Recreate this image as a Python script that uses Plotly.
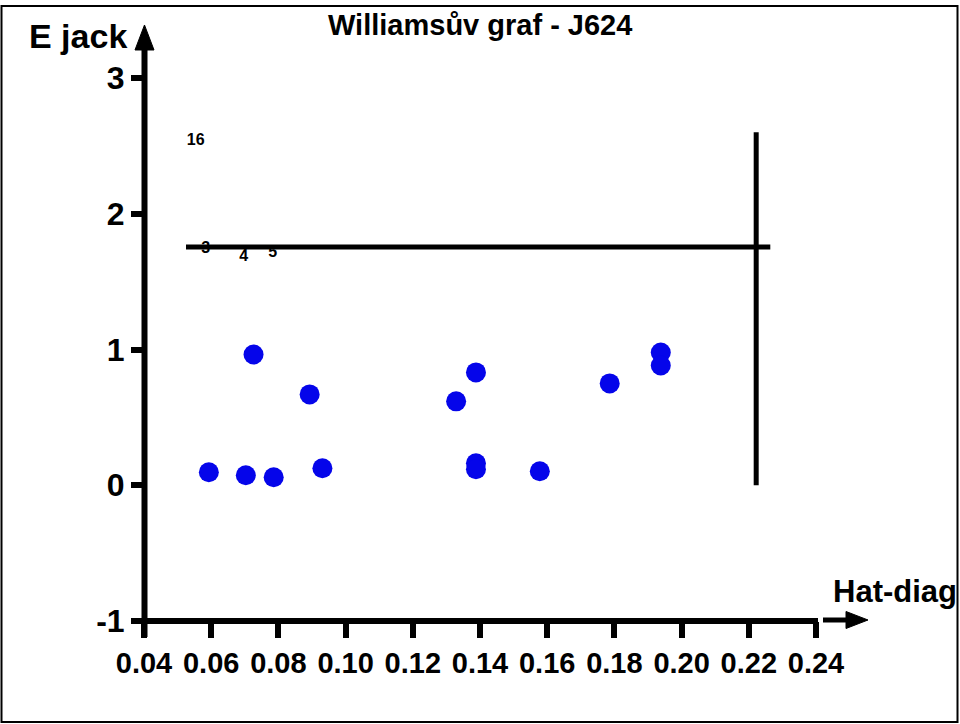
import plotly.graph_objects as go

# Data
hat = [0.0593, 0.0703, 0.0786, 0.0726, 0.0893, 0.0931, 0.1329, 0.1388, 0.1388, 0.1388,
       0.1578, 0.1786, 0.1938, 0.1938]
ejack = [0.096, 0.074, 0.059, 0.963, 0.669, 0.125, 0.618, 0.831, 0.162, 0.118,
         0.103, 0.750, 0.978, 0.882]

lab_names = ["16", "3", "4", "5"]
lab_hat = [0.0554, 0.0584, 0.0697, 0.0783]
lab_ejack = [2.537, 1.743, 1.684, 1.713]

h_star = 0.2222
e_crit = 1.755
hline_x = [0.0525, 0.2264]
vline_y = [0.0, 2.6]

x_ticks = [0.04, 0.06, 0.08, 0.10, 0.12, 0.14, 0.16, 0.18, 0.20, 0.22, 0.24]
x_ticktext = ["0.04", "0.06", "0.08", "0.10", "0.12", "0.14", "0.16", "0.18", "0.20", "0.22", "0.24"]
y_ticks = [-1, 0, 1, 2, 3]
y_ticktext = ["-1", "0", "1", "2", "3"]

W, H = 960, 724
FONT = "Liberation Sans, Arial"
XTICKFONT = dict(family=FONT, size=29, color="black", weight="bold")
YTICKFONT = dict(family=FONT, size=32, color="black", weight="bold")

# plot-area edges in pixels
X0, X1 = 144, 816
Y0, Y1 = 621, 78


def px(x):
    return x / W


def py(y):
    return 1 - y / H


def tri(pts):
    return "M " + " L ".join(f"{px(a):.5f},{py(b):.5f}" for a, b in pts) + " Z"


fig = go.Figure()
fig.add_trace(go.Scatter(x=hline_x, y=[e_crit, e_crit], mode="lines",
                         line=dict(color="black", width=5), hoverinfo="skip", cliponaxis=False))
fig.add_trace(go.Scatter(x=[h_star, h_star], y=vline_y, mode="lines",
                         line=dict(color="black", width=5), hoverinfo="skip", cliponaxis=False))
fig.add_trace(go.Scatter(x=hat, y=ejack, mode="markers",
                         marker=dict(size=20, color="#0505ea"), cliponaxis=False))
fig.add_trace(go.Scatter(x=lab_hat, y=lab_ejack, mode="text", text=lab_names,
                         textfont=dict(family=FONT, size=16, color="black", weight="bold"),
                         cliponaxis=False))

axis_shapes = [
    # y axis line + arrow head
    dict(type="line", xref="paper", yref="paper", x0=px(X0 + 0.5), x1=px(X0 + 0.5),
         y0=py(Y0 + 16), y1=py(44), line=dict(color="black", width=6)),
    dict(type="path", xref="paper", yref="paper",
         path=tri([(X0 + 0.5, 25), (135, 50), (154, 50)]),
         fillcolor="black", line=dict(color="black", width=1)),
    # x axis line
    dict(type="line", xref="paper", yref="paper", x0=px(X0 - 3), x1=px(X1 + 2),
         y0=py(Y0), y1=py(Y0), line=dict(color="black", width=6)),
    # x arrow: shaft + head
    dict(type="line", xref="paper", yref="paper", x0=px(823), x1=px(850),
         y0=py(620), y1=py(620), line=dict(color="black", width=5)),
    dict(type="path", xref="paper", yref="paper",
         path=tri([(868, 620), (846, 611.5), (846, 628.5)]),
         fillcolor="black", line=dict(color="black", width=1)),
]

fig.update_layout(
    width=W, height=H,
    margin=dict(l=0, r=0, t=0, b=0, pad=0, autoexpand=False),
    paper_bgcolor="white", plot_bgcolor="white",
    showlegend=False,
    xaxis=dict(domain=[X0 / W, X1 / W], range=[0.04, 0.24], tickvals=x_ticks,
               ticktext=x_ticktext, tickangle=0, automargin=False,
               showgrid=False, zeroline=False, showline=False,
               ticks="outside", ticklen=16, tickwidth=6,
               tickcolor="black", tickfont=XTICKFONT, anchor="y"),
    yaxis=dict(domain=[py(Y0), py(Y1)], range=[-1, 3], tickvals=y_ticks,
               ticktext=y_ticktext, automargin=False,
               showgrid=False, zeroline=False, showline=False,
               ticks="outside", ticklen=12, tickwidth=6, tickcolor="black",
               tickfont=YTICKFONT, anchor="x"),
    shapes=[dict(type="rect", xref="paper", yref="paper", x0=px(1.5), x1=px(957.5),
                 y0=py(722), y1=py(6), line=dict(color="black", width=2))] + axis_shapes,
    annotations=[
        dict(text="Williamsův graf - J624", xref="paper", yref="paper", x=px(480),
             y=py(25), showarrow=False, xanchor="center", yanchor="middle",
             font=dict(family=FONT, size=29, color="black", weight="bold")),
        dict(text="E jack", xref="paper", yref="paper", x=px(27), y=py(36),
             showarrow=False, xanchor="left", yanchor="middle",
             font=dict(family=FONT, size=34, color="black", weight="bold")),
        dict(text="Hat-diag", xref="paper", yref="paper", x=px(831), y=py(591),
             showarrow=False, xanchor="left", yanchor="middle",
             font=dict(family=FONT, size=31, color="black", weight="bold")),
    ],
)

fig.write_html("out.html")
